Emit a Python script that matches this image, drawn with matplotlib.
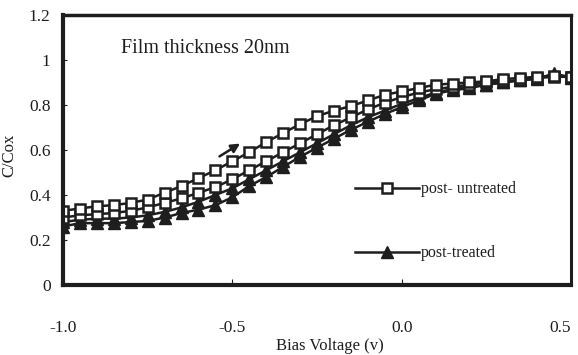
import matplotlib.pyplot as plt

plt.rcParams["font.family"] = ["Liberation Serif", "DejaVu Serif"]
plt.rcParams["axes.unicode_minus"] = False

voltage = [-1.00, -0.95, -0.90, -0.85, -0.80, -0.75, -0.70, -0.65, -0.60, -0.55,
           -0.50, -0.45, -0.40, -0.35, -0.30, -0.25, -0.20, -0.15, -0.10, -0.05,
           0.00, 0.05, 0.10, 0.15, 0.20, 0.25, 0.30, 0.35, 0.40, 0.45, 0.50]

# post-untreated, forward and reverse sweeps
untreated_up = [0.33, 0.34, 0.35, 0.355, 0.365, 0.38, 0.41, 0.44, 0.475, 0.51,
                0.55, 0.59, 0.635, 0.675, 0.715, 0.75, 0.775, 0.795, 0.82, 0.845,
                0.86, 0.875, 0.89, 0.895, 0.90, 0.905, 0.915, 0.92, 0.925, 0.93, 0.925]
untreated_down = [0.30, 0.31, 0.315, 0.32, 0.33, 0.345, 0.365, 0.385, 0.41, 0.435,
                  0.47, 0.51, 0.55, 0.59, 0.63, 0.67, 0.71, 0.745, 0.78, 0.81,
                  0.835, 0.855, 0.87, 0.88, 0.89, 0.90, 0.905, 0.91, 0.92, 0.925, 0.925]

# post-treated, forward and reverse sweeps
treated_up = [0.28, 0.29, 0.295, 0.295, 0.30, 0.31, 0.325, 0.345, 0.37, 0.40,
              0.43, 0.47, 0.51, 0.55, 0.59, 0.63, 0.67, 0.71, 0.745, 0.775,
              0.805, 0.83, 0.855, 0.87, 0.88, 0.89, 0.90, 0.91, 0.92, 0.935, 0.925]
treated_down = [0.26, 0.275, 0.275, 0.275, 0.28, 0.285, 0.30, 0.32, 0.335, 0.355,
                0.39, 0.44, 0.48, 0.525, 0.57, 0.61, 0.65, 0.69, 0.725, 0.76,
                0.79, 0.82, 0.85, 0.865, 0.875, 0.89, 0.90, 0.91, 0.915, 0.94, 0.92]

x_ticks = [-1.0, -0.5, 0.0, 0.5]
x_tick_labels = ["-1.0", "-0.5", "0.0", "0.5"]
y_ticks = [0, 0.2, 0.4, 0.6, 0.8, 1.0, 1.2]
y_tick_labels = ["0", "0.2", "0.4", "0.6", "0.8", "1", "1.2"]

ink = "#1e1e1e"

fig = plt.figure(figsize=(5.78, 3.55), dpi=100)
ax = fig.add_axes([0.109, 0.197, 0.879, 0.761])

sq = dict(color=ink, lw=1.8, marker="s", markersize=7,
          markerfacecolor="white", markeredgecolor=ink, markeredgewidth=1.8)
tri = dict(color=ink, lw=1.8, marker="^", markersize=9,
           markerfacecolor=ink, markeredgecolor=ink)

ax.plot(voltage, treated_down, **tri, label="post-treated")
ax.plot(voltage, treated_up, **tri)
ax.plot(voltage, untreated_down, **sq)
ax.plot(voltage, untreated_up, **sq, label="post- untreated")

ax.annotate("", xy=(-0.47, 0.635), xytext=(-0.545, 0.565),
            arrowprops=dict(arrowstyle="-|>", color=ink, lw=1.8,
                            mutation_scale=13))

ax.text(-0.83, 1.05, "Film thickness 20nm", fontsize=14.5, va="center", color=ink)

ax.set_xlim(-1.0, 0.5)
ax.set_ylim(0, 1.2)
ax.set_xticks(x_ticks)
ax.set_xticklabels(x_tick_labels)
ax.set_yticks(y_ticks)
ax.set_yticklabels(y_tick_labels)
ax.tick_params(axis="x", direction="in", length=4, pad=25, labelsize=12.5,
               labelcolor=ink, color=ink)
ax.tick_params(axis="y", direction="in", length=3, pad=9, labelsize=12.5,
               labelcolor=ink, color=ink)
ax.get_xticklabels()[-1].set_horizontalalignment("right")
for side, w in [("left", 3), ("bottom", 3), ("top", 2.5), ("right", 2.2)]:
    ax.spines[side].set_linewidth(w)
    ax.spines[side].set_color(ink)

ax.set_xlabel("Bias Voltage (v)", fontsize=12, color=ink)
ax.xaxis.set_label_coords(0.525, -0.195)
ax.set_ylabel("C/Cox", fontsize=12, color=ink)
ax.yaxis.set_label_coords(-0.09, 0.48)

handles, labels = ax.get_legend_handles_labels()
ax.legend(handles[::-1], labels[::-1], loc="upper left", bbox_to_anchor=(0.575, 0.384),
          frameon=False, fontsize=11.5, handlelength=4.0, handletextpad=0.1,
          labelspacing=3.0, borderpad=0, borderaxespad=0, labelcolor=ink)

fig.savefig("out.png", dpi=100)
